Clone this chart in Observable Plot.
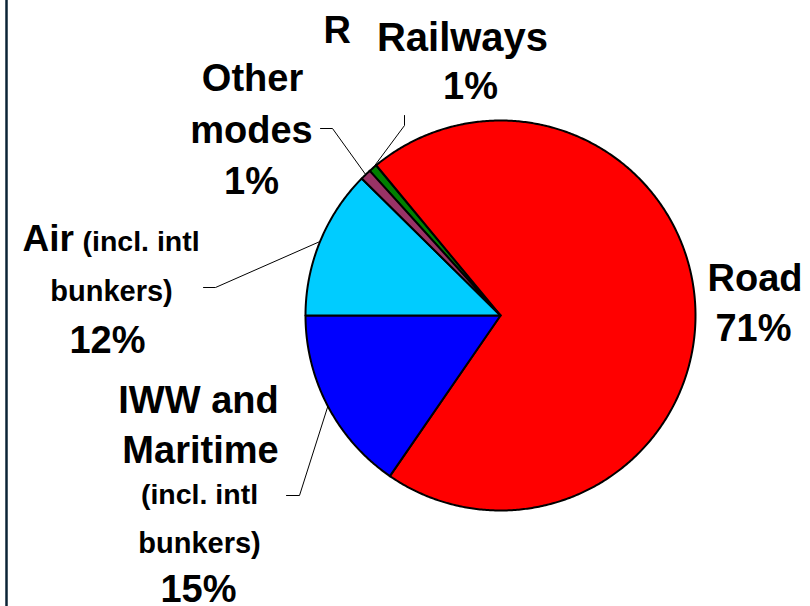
<!DOCTYPE html>
<html><head><meta charset="utf-8">
<script src="https://cdn.jsdelivr.net/npm/d3@7"></script>
<script src="https://cdn.jsdelivr.net/npm/@observablehq/plot@0.6"></script>
<style>body{margin:0;background:#fff}</style>
</head><body><div id="chart"></div>
<script>
// ---- data ----
const categories = ["Railways", "Road", "IWW and Maritime", "Air", "Other modes"];
const values = [0.7, 70.6, 15.4, 12.4, 0.9];
const colors = ["#008000", "#FF0000", "#0000FF", "#00CCFF", "#993366"];

// ---- layout (pixel units) ----
const W = 810, H = 606;
const cx = 500, cy = 315, R = 195;
const FONT = "Liberation Sans, Arial, sans-serif";

const pct = i => Math.round(values[i]) + "%";
// label lines: text, x, baseline, size, anchor
const labelLines = [
  {t: "R", x: 323, b: 42, s: 38, a: "start"},
  {t: "Railways", x: 462, b: 50, s: 40, a: "middle"},
  {t: pct(0), x: 470, b: 98, s: 38, a: "middle"},
  {t: "Other", x: 252, b: 90, s: 38, a: "middle"},
  {t: "modes", x: 251, b: 142, s: 38, a: "middle"},
  {t: pct(4), x: 251, b: 193, s: 38, a: "middle"},
  {t: "Air", x: 22, b: 250, s: 37, a: "start"},
  {t: "(incl. intl", x: 82, b: 250, s: 28.5, a: "start"},
  {t: "bunkers)", x: 111, b: 300, s: 29, a: "middle"},
  {t: pct(3), x: 107, b: 352, s: 38, a: "middle"},
  {t: "IWW and", x: 198, b: 412, s: 38, a: "middle"},
  {t: "Maritime", x: 200, b: 462, s: 38, a: "middle"},
  {t: "(incl. intl", x: 199, b: 503, s: 28.5, a: "middle"},
  {t: "bunkers)", x: 199, b: 552, s: 29, a: "middle"},
  {t: pct(2), x: 198, b: 601, s: 38, a: "middle"},
  {t: "Road", x: 707, b: 290, s: 38, a: "start"},
  {t: pct(1), x: 753, b: 340, s: 38, a: "middle"}
];
// leader anchors near labels: category index, start point, elbow point
const leaders = [
  {i: 0, x0: 404, y0: 115, x1: 404, y1: 125},
  {i: 4, x0: 320, y0: 128, x1: 332, y1: 128},
  {i: 3, x0: 203, y0: 287, x1: 215, y1: 287},
  {i: 2, x0: 286, y0: 495, x1: 299, y1: 495}
];

// ---- pie geometry ----
const data = categories.map((name, i) => ({name, value: values[i], color: colors[i], i}));
const total = d3.sum(values);
const fracToAir = (values[0] + values[1] + values[2]) / total; // IWW/Air boundary at 9 o'clock
const start = 1.5 * Math.PI - fracToAir * 2 * Math.PI;
const arcs = d3.pie().sort(null).value(d => d.value).startAngle(start).endAngle(start + 2 * Math.PI)(data);
const px = a => cx + R * Math.sin(a);
const py = a => cy - R * Math.cos(a);

const slicePts = [];
for (const a of arcs) {
  const d = a.data;
  slicePts.push({name: d.name, color: d.color, x: cx, y: cy});
  const n = Math.max(2, Math.ceil((a.endAngle - a.startAngle) / (Math.PI / 360)));
  for (let k = 0; k <= n; k++) {
    const t = a.startAngle + (a.endAngle - a.startAngle) * k / n;
    slicePts.push({name: d.name, color: d.color, x: px(t), y: py(t)});
  }
  slicePts.push({name: d.name, color: d.color, x: cx, y: cy});
}

const leaderPts = [];
for (const l of leaders) {
  const a = arcs[l.i];
  const m = (a.startAngle + a.endAngle) / 2;
  leaderPts.push({k: l.i, x: l.x0, y: l.y0}, {k: l.i, x: l.x1, y: l.y1}, {k: l.i, x: px(m), y: py(m)});
}

const textOpts = anchor => ({
  x: "x", y: d => d.b - 0.32 * d.s, text: "t",
  fontSize: d => d.s, textAnchor: anchor,
  fontWeight: "bold", fill: "#000", fontFamily: FONT
});

const chart = Plot.plot({
  width: W, height: H,
  margin: 0,
  x: {domain: [0, W], range: [0, W], axis: null},
  y: {domain: [0, H], range: [0, H], axis: null},
  color: {type: "identity"},
  style: {background: "#fff", fontFamily: FONT},
  marks: [
    Plot.ruleX([6], {stroke: "#0b2436", strokeWidth: 2.5}),
    Plot.line(slicePts, {x: "x", y: "y", z: "name", fill: "color", stroke: "#000", strokeWidth: 2, strokeLinejoin: "round", curve: "linear"}),
    Plot.line(leaderPts, {x: "x", y: "y", z: "k", stroke: "#000", strokeWidth: 1, curve: "linear"}),
    Plot.text(labelLines.filter(d => d.a === "start"), textOpts("start")),
    Plot.text(labelLines.filter(d => d.a === "middle"), textOpts("middle"))
  ]
});
document.getElementById("chart").appendChild(chart);
</script>
</body></html>
